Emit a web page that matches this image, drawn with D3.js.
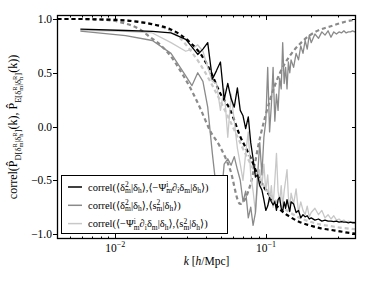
<!DOCTYPE html>
<html>
<head>
<meta charset="utf-8">
<script src="https://cdn.jsdelivr.net/npm/d3@7"></script>
<style>
  body { margin: 0; background: #fff; }
  text { font-family: "Liberation Serif", "DejaVu Serif", serif; fill: #000; }
</style>
</head>
<body>
<svg id="chart" width="374" height="282"></svg>
<script>
// k bins of the measured correlations [h/Mpc]
var kBins = [0.00586, 0.0117, 0.0176, 0.0234, 0.0293, 0.0322, 0.0352, 0.0381, 0.0410, 0.0440,
  0.0469, 0.0498, 0.0527, 0.0557, 0.0586, 0.0615, 0.0645, 0.0674, 0.0703, 0.0732,
  0.0762, 0.0791, 0.0820, 0.0850, 0.0879, 0.0908, 0.0938, 0.0967, 0.0996, 0.1025,
  0.1055, 0.1084, 0.1113, 0.1143, 0.1172, 0.1201, 0.1230, 0.1260, 0.1289, 0.1318,
  0.1348, 0.1377, 0.1406, 0.1436, 0.1465, 0.1523, 0.1582, 0.1641, 0.1699, 0.1758,
  0.1816, 0.1875, 0.1934, 0.1992, 0.2109, 0.2227, 0.2344, 0.2461, 0.2578, 0.2695,
  0.2813, 0.2930, 0.3047, 0.3164, 0.3281, 0.3398, 0.3516, 0.3633, 0.3750, 0.3867, 0.3955];

// correl(<d2|dh>, <-Psi d delta|dh>)  (black)
var correlShift = [0.905, 0.893, 0.884, 0.87, 0.81, 0.74, 0.67, 0.72, 0.78, 0.44,
  0.52, 0.60, 0.25, 0.40, 0.26, 0.18, 0.36, 0.15, 0.10, -0.02,
  0.09, -0.15, -0.30, -0.47, -0.45, -0.55, -0.59, -0.68, -0.78, -0.74,
  -0.66, -0.70, -0.73, -0.70, -0.78, -0.68, -0.66, -0.76, -0.79, -0.70,
  -0.76, -0.68, -0.74, -0.79, -0.70, -0.72, -0.80, -0.78, -0.85, -0.82,
  -0.84, -0.83, -0.86, -0.85, -0.87, -0.86, -0.88, -0.87, -0.88, -0.88,
  -0.885, -0.88, -0.89, -0.885, -0.89, -0.89, -0.895, -0.89, -0.895, -0.895, -0.895];

// correl(<d2|dh>, <s2|dh>)  (gray)
var correlTidal = [0.888, 0.845, 0.80, 0.68, 0.47, 0.38, 0.50, 0.42, 0.18, -0.25,
  -0.60, -0.75, -0.35, -0.30, -0.36, -0.28, -0.40, -0.50, -0.70, -0.60,
  -0.85, -0.75, -0.92, -0.80, -0.45, -0.15, -0.45, -0.10, 0.05, 0.55,
  -0.05, 0.20, 0.55, 0.05, 0.30, 0.15, 0.45, 0.35, 0.78, 0.40,
  0.55, 0.35, 0.60, 0.50, 0.62, 0.55, 0.68, 0.62, 0.75, 0.68,
  0.80, 0.72, 0.85, 0.78, 0.86, 0.82, 0.88, 0.85, 0.89, 0.83,
  0.88, 0.86, 0.88, 0.87, 0.89, 0.87, 0.88, 0.88, 0.89, 0.88, 0.885];

// correl(<-Psi d delta|dh>, <s2|dh>)  (light gray)
var correlShiftTidal = [0.895, 0.885, 0.87, 0.78, 0.70, 0.72, 0.76, 0.70, 0.55, 0.42,
  0.40, 0.15, 0.35, -0.10, 0.30, 0.05, -0.20, -0.35, -0.50, -0.25,
  -0.05, -0.45, -0.60, -0.80, -0.55, -0.40, -0.55, -0.35, -0.60, -0.45,
  -0.70, -0.55, -0.75, -0.50, -0.25, -0.60, -0.70, -0.55, -0.75, -0.60,
  -0.50, -0.40, -0.65, -0.78, -0.62, -0.72, -0.58, -0.80, -0.70, -0.78,
  -0.82, -0.74, -0.84, -0.80, -0.76, -0.82, -0.78, -0.85, -0.82, -0.86,
  -0.83, -0.87, -0.86, -0.88, -0.87, -0.89, -0.88, -0.89, -0.885, -0.89, -0.89];

// model curves (dashed)
var kTheory = [0.00413, 0.00586, 0.00796, 0.01079, 0.01464, 0.01705, 0.01986, 0.02313, 0.02695,
  0.03139, 0.03655, 0.04257, 0.04959, 0.05776, 0.06727, 0.07834, 0.09126, 0.1063, 0.1238,
  0.1442, 0.168, 0.1956, 0.2278, 0.2653, 0.309, 0.360, 0.3945];
var theoryShift = [1.0, 1.0, 0.995, 0.99, 0.97, 0.955, 0.935, 0.905, 0.855,
  0.78, 0.68, 0.52, 0.31, 0.155, -0.09, -0.28, -0.50, -0.65, -0.77,
  -0.84, -0.89, -0.92, -0.945, -0.96, -0.975, -0.99, -0.995];
var theoryTidal = [1.0, 1.0, 0.995, 0.97, 0.90, 0.83, 0.76, 0.66, 0.52,
  0.36, 0.17, -0.04, -0.19, -0.40, -0.72, -0.55, -0.10, 0.25, 0.50,
  0.66, 0.77, 0.85, 0.90, 0.93, 0.96, 0.985, 0.99];
var theoryShiftTidal = [1.0, 1.0, 0.998, 0.99, 0.975, 0.955, 0.93, 0.89, 0.82,
  0.71, 0.58, 0.42, 0.24, 0.05, -0.15, -0.34, -0.50, -0.63, -0.73,
  -0.80, -0.85, -0.885, -0.91, -0.925, -0.94, -0.95, -0.955];

var yTicks = [-1, -0.5, 0, 0.5, 1];
var yTickLabels = ['\u22121.0', '\u22120.5', '0.0', '0.5', '1.0'];
var xMajor = [0.01, 0.1];
var xMajorExp = ['\u22122', '\u22121'];

var svg = d3.select('#chart');
var plotL = 57, plotR = 356, plotT = 15, plotB = 239;

var x = d3.scaleLog().domain([0.0041, 0.395]).range([plotL, plotR]);
var y = d3.scaleLinear().domain([-1.046, 1.037]).range([plotB, plotT]);

// text with sub/superscripts; stacked parts sit over the previous one
function rich(text, parts) {
  var prevY = 0, prevW = 0, pad = 0;
  parts.forEach(function(p) {
    var ts = text.append('tspan').attr('font-size', p.s).text(p.t);
    var dx = pad; pad = 0;
    if (p.stack) dx -= prevW;
    var oy = p.y || 0;
    ts.attr('dx', dx).attr('dy', oy - prevY);
    prevY = oy;
    var w = ts.node().getComputedTextLength();
    if (p.stack && w < prevW) pad = prevW - w;
    prevW = p.stack ? Math.max(w, prevW) : w;
  });
}

svg.append('defs').append('clipPath').attr('id', 'plot')
  .append('rect').attr('x', plotL).attr('y', plotT).attr('width', plotR - plotL).attr('height', plotB - plotT);

var plot = svg.append('g').attr('clip-path', 'url(#plot)');

var measured = d3.line().x(function(d, i) { return x(kBins[i]); }).y(function(d) { return y(d); });
var model = d3.line().curve(d3.curveMonotoneX)
  .x(function(d, i) { return x(kTheory[i]); }).y(function(d) { return y(d); });

var dashed = [
  { data: theoryShiftTidal, color: '#c8c8c8' },
  { data: theoryTidal, color: '#8a8a8a' },
  { data: theoryShift, color: '#000' }
];
var solid = [
  { data: correlShiftTidal, color: '#c8c8c8' },
  { data: correlTidal, color: '#8a8a8a' },
  { data: correlShift, color: '#000' }
];

dashed.forEach(function(s) {
  plot.append('path').attr('d', model(s.data))
    .attr('fill', 'none').attr('stroke', s.color)
    .attr('stroke-width', 2.2).attr('stroke-dasharray', '4,3');
});
solid.forEach(function(s) {
  plot.append('path').attr('d', measured(s.data))
    .attr('fill', 'none').attr('stroke', s.color)
    .attr('stroke-width', 1.3).attr('stroke-linejoin', 'round');
});

// ticks
var axes = svg.append('g').attr('stroke', '#000').attr('stroke-width', 1);
x.ticks().forEach(function(t) {
  var major = xMajor.some(function(m) { return Math.abs(m - t) < 1e-9; });
  var len = major ? 5 : 2.5;
  var px = Math.round(x(t)) + 0.5;
  axes.append('line').attr('x1', px).attr('x2', px).attr('y1', plotB).attr('y2', plotB - len);
  axes.append('line').attr('x1', px).attr('x2', px).attr('y1', plotT).attr('y2', plotT + len);
});
yTicks.forEach(function(t) {
  var py = Math.round(y(t)) + 0.5;
  axes.append('line').attr('x1', plotL).attr('x2', plotL - 4).attr('y1', py).attr('y2', py);
  axes.append('line').attr('x1', plotR).attr('x2', plotR - 4).attr('y1', py).attr('y2', py);
});

svg.append('rect').attr('x', plotL + 0.5).attr('y', plotT + 0.5)
  .attr('width', plotR - plotL - 1).attr('height', plotB - plotT - 1)
  .attr('fill', 'none').attr('stroke', '#000').attr('stroke-width', 1.3);

// tick labels
svg.selectAll('.ylab').data(yTicks).enter().append('text').classed('ylab', true)
  .attr('x', plotL - 5).attr('y', function(d) { return y(d) + 4; })
  .attr('text-anchor', 'end').attr('font-size', 11.5)
  .text(function(d, i) { return yTickLabels[i]; });

xMajor.forEach(function(t, i) {
  var lab = svg.append('text').attr('x', x(t)).attr('y', 252).attr('text-anchor', 'middle');
  rich(lab, [{ t: '10', s: 11.5 }, { t: xMajorExp[i], s: 8, y: -5 }]);
});

// axis labels
var xl = svg.append('text').attr('x', (plotL + plotR) / 2).attr('y', 265).attr('text-anchor', 'middle');
rich(xl, [{ t: 'k', s: 11.5 }, { t: ' [', s: 11.5 }, { t: 'h', s: 11.5 }, { t: '/Mpc]', s: 11.5 }]);
xl.selectAll('tspan').filter(function(d, i) { return i === 0 || i === 2; }).attr('font-style', 'italic');

var yl = svg.append('text').attr('text-anchor', 'middle')
  .attr('transform', 'translate(17,' + ((plotT + plotB) / 2) + ') rotate(-90)');
function estimatorSub(letter) {
  return [
    { t: letter + '[\u03b4', s: 8.5, y: 3.5 },
    { t: 'R', s: 6.5, y: -0.5 }, { t: 'm', s: 6.5, y: 5.5, stack: true },
    { t: '|\u03b4', s: 8.5, y: 3.5 },
    { t: 'R', s: 6.5, y: -0.5 }, { t: 'h', s: 6.5, y: 5.5, stack: true },
    { t: ']', s: 8.5, y: 3.5 }
  ];
}
rich(yl, [{ t: 'correl(', s: 12 }, { t: 'P\u0302', s: 12, y: 0 }]
  .concat(estimatorSub('D'))
  .concat([{ t: '(k), ', s: 12, y: 0 }, { t: 'P\u0302', s: 12, y: 0 }])
  .concat(estimatorSub('E'))
  .concat([{ t: '(k))', s: 12, y: 0 }]));

// legend
var legendRows = [
  { color: '#000', parts: [
    { t: 'correl(\u27e8\u03b4', s: 10.5 }, { t: '2', s: 7.5, y: -3.5 }, { t: 'm', s: 7.5, y: 2.5, stack: true },
    { t: '|\u03b4', s: 10.5 }, { t: 'h', s: 7.5, y: 2.5 }, { t: '\u27e9,\u27e8\u2212\u03a8', s: 10.5 },
    { t: 'i', s: 7.5, y: -3.5 }, { t: 'm', s: 7.5, y: 2.5, stack: true },
    { t: '\u2202', s: 10.5 }, { t: 'i', s: 7.5, y: 2.5 }, { t: '\u03b4', s: 10.5 }, { t: 'm', s: 7.5, y: 2.5 },
    { t: '|\u03b4', s: 10.5 }, { t: 'h', s: 7.5, y: 2.5 }, { t: '\u27e9)', s: 10.5 }] },
  { color: '#8a8a8a', parts: [
    { t: 'correl(\u27e8\u03b4', s: 10.5 }, { t: '2', s: 7.5, y: -3.5 }, { t: 'm', s: 7.5, y: 2.5, stack: true },
    { t: '|\u03b4', s: 10.5 }, { t: 'h', s: 7.5, y: 2.5 }, { t: '\u27e9,\u27e8s', s: 10.5 },
    { t: '2', s: 7.5, y: -3.5 }, { t: 'm', s: 7.5, y: 2.5, stack: true },
    { t: '|\u03b4', s: 10.5 }, { t: 'h', s: 7.5, y: 2.5 }, { t: '\u27e9)', s: 10.5 }] },
  { color: '#c8c8c8', parts: [
    { t: 'correl(\u27e8\u2212\u03a8', s: 10.5 }, { t: 'i', s: 7.5, y: -3.5 }, { t: 'm', s: 7.5, y: 2.5, stack: true },
    { t: '\u2202', s: 10.5 }, { t: 'i', s: 7.5, y: 2.5 }, { t: '\u03b4', s: 10.5 }, { t: 'm', s: 7.5, y: 2.5 },
    { t: '|\u03b4', s: 10.5 }, { t: 'h', s: 7.5, y: 2.5 }, { t: '\u27e9,\u27e8s', s: 10.5 },
    { t: '2', s: 7.5, y: -3.5 }, { t: 'm', s: 7.5, y: 2.5, stack: true },
    { t: '|\u03b4', s: 10.5 }, { t: 'h', s: 7.5, y: 2.5 }, { t: '\u27e9)', s: 10.5 }] }
];

var legend = svg.append('g');
legend.append('rect').attr('x', 61.5).attr('y', 175.5).attr('width', 166).attr('height', 58)
  .attr('fill', '#fff').attr('stroke', '#000').attr('stroke-width', 1);
legendRows.forEach(function(row, i) {
  var ry = 187 + i * 18.3;
  legend.append('line').attr('x1', 68).attr('x2', 82).attr('y1', ry).attr('y2', ry)
    .attr('stroke', row.color).attr('stroke-width', 1.5);
  var t = legend.append('text').attr('x', 88).attr('y', ry + 3.5);
  rich(t, row.parts);
});
</script>
</body>
</html>
